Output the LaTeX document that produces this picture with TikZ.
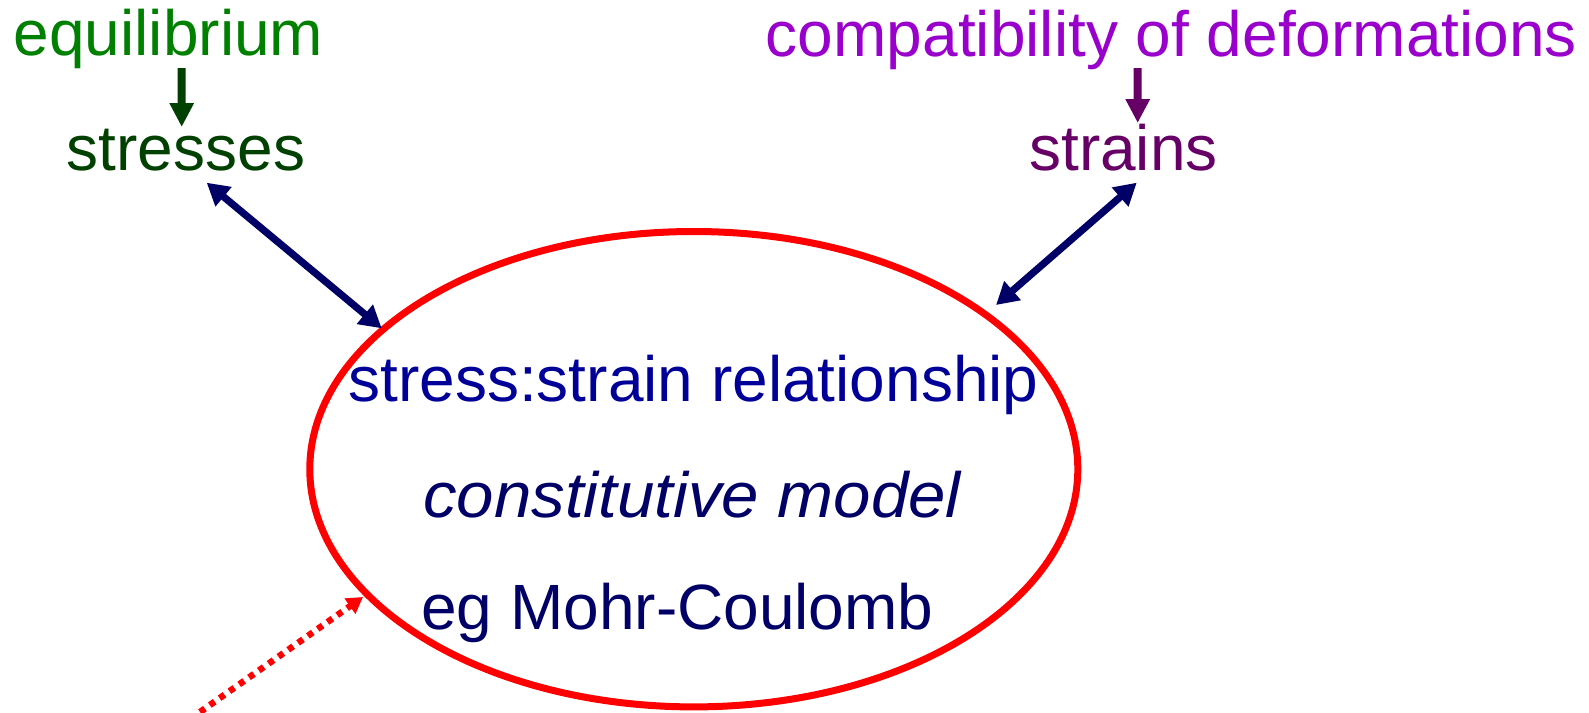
\documentclass[tikz,border=0pt]{standalone}
\usepackage{fontspec}
\setmainfont{Liberation Sans}
\usetikzlibrary{arrows.meta,shapes.geometric,calc}
\definecolor{eqgreen}{HTML}{008000}
\definecolor{dkgreen}{HTML}{004000}
\definecolor{cpurple}{HTML}{9900CC}
\definecolor{dkpurple}{HTML}{660066}
\definecolor{navy}{HTML}{000066}
\definecolor{rblue}{HTML}{000099}
\definecolor{ellred}{HTML}{FF0000}
\begin{document}
\begin{tikzpicture}[x=0.5pt,y=-0.5pt,
  lbl/.style={inner sep=0pt,outer sep=0pt,anchor=base,font=\fontsize{32pt}{38pt}\selectfont},
  vtip/.style={-{Triangle[width=11.5pt,length=12pt]}},
  vline/.style={line width=4pt,vtip},
  dbl/.style={line width=3.6pt,draw=navy,{Triangle[width=12pt,length=11pt]}-{Triangle[width=12pt,length=11pt]}},
  dotarrow/.style={line width=3.2pt,draw=ellred,dash pattern=on 3pt off 3pt,-{Triangle[width=9pt,length=8pt]}}
]
\useasboundingbox (0,0) rectangle (1589,712);
% texts
\node[lbl,text=eqgreen] (eq) at (168.5,55) {equilibrium};
\node[lbl,text=dkgreen] (st) at (186,170) {stresses};
\node[lbl,text=cpurple] (cp) at (1171.5,56) {compatibility of deformations};
\node[lbl,text=dkpurple] (sn) at (1123.5,170) {strains};
% ellipse
\node[draw=ellred,line width=3.5pt,ellipse,minimum width=384pt,minimum height=237.7pt,inner sep=0pt,outer sep=0pt] (ell) at (693.8,469.2) {};
\node[lbl,text=rblue] (t1) at (693.5,401) {stress:strain relationship};
\node[lbl,text=navy,font=\fontsize{32pt}{38pt}\selectfont\itshape\addfontfeatures{FakeStretch=1.05}] (t2) at (692,517) {constitutive model};
\node[lbl,text=navy] (t3) at (677.5,629) {eg Mohr-Coulomb};
% arrows
\draw[vline,draw=dkgreen] ($(eq.base)+(13.2,13)$) -- ($(st.base)+(-4.3,-43)$);
\draw[vline,draw=dkpurple] ($(cp.base)+(-33.8,12)$) -- ($(sn.base)+(14.2,-47)$);
\draw[dbl] ($(st.base)+(20.7,12.7)$) -- ($(ell.center)+(-312.1,-140.9)$);
\draw[dbl] ($(sn.base)+(13.2,12.7)$) -- ($(ell.center)+(302.2,-164.2)$);
\coordinate (rs) at (200,712);
\draw[dotarrow] (rs) -- ($(ell.center)+(-330.8,127.8)$);
\end{tikzpicture}
\end{document}
